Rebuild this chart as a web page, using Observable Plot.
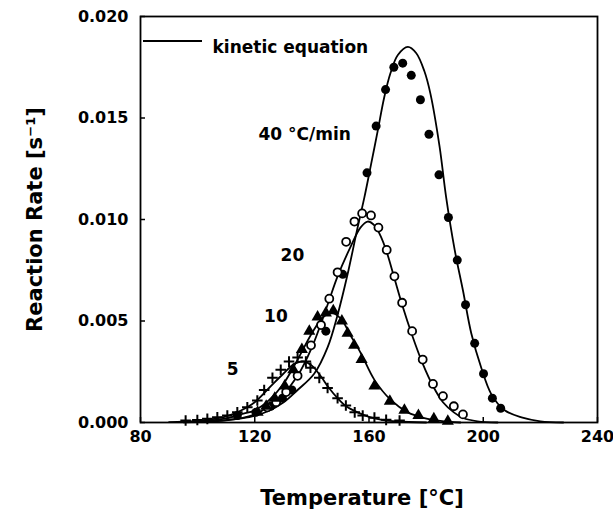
<!DOCTYPE html>
<html>
<head>
<meta charset="utf-8">
<script src="https://cdn.jsdelivr.net/npm/d3@7"></script>
<script src="https://cdn.jsdelivr.net/npm/@observablehq/plot@0.6"></script>
<style>
  html, body { margin: 0; padding: 0; background: #fff; }
  #chart svg { display: block; }
</style>
</head>
<body>
<div id="chart"></div>
<script>
// ---------- data ----------
const xTicks = [80, 120, 160, 200, 240];
const yTicks = [0, 0.005, 0.010, 0.015, 0.020];

// kinetic-equation curves (temperature °C, rate s^-1)
const line5T  = [90, 95, 100, 105, 110, 115, 120, 125, 130, 134, 137.3, 140, 143, 146, 149, 152, 156, 160, 165, 170, 180];
const line5R  = [0.00002, 0.00004, 0.00008, 0.00016, 0.0003, 0.00058, 0.0010, 0.0017, 0.0024, 0.0029, 0.0030, 0.0028, 0.0023, 0.0017, 0.0012, 0.0008, 0.0005, 0.00028, 0.00012, 0.00005, 0];

const line10T = [95, 105, 110, 115, 120, 125, 130, 135, 140, 144, 147, 150.2, 153.5, 157.2, 161.9, 167.7, 173.6, 179.4, 185, 192];
const line10R = [0.00002, 0.0001, 0.0002, 0.0004, 0.0006, 0.0011, 0.0019, 0.0031, 0.0044, 0.0052, 0.0054, 0.0051, 0.0043, 0.0034, 0.0021, 0.0011, 0.0005, 0.00022, 0.00008, 0];

const line20T = [100, 110, 115, 120, 125, 130, 135, 140, 145.5, 149, 153.7, 157, 159.5, 162, 164, 166.2, 168.9, 171.6, 175.1, 178.8, 182.4, 185.9, 189.7, 193, 198, 205];
const line20R = [0.00002, 0.0001, 0.0002, 0.0004, 0.0008, 0.0014, 0.0023, 0.0037, 0.0058, 0.0072, 0.0087, 0.0096, 0.0099, 0.0097, 0.0092, 0.0084, 0.0071, 0.0058, 0.0043, 0.0029, 0.0018, 0.0010, 0.0005, 0.00022, 0.00006, 0];

const line40T = [95, 100, 105, 110, 115, 120, 125, 130, 135, 140.8, 145.5, 149, 152.5, 156, 158.4, 160.7, 163.1, 165.3, 167.5, 170.1, 173.6, 176.5, 179.4, 181.5, 184.7, 187, 190, 192.9, 195.8, 199.3, 202.8, 207.5, 213.4, 220, 228];
const line40R = [0.00001, 0.00003, 0.00006, 0.00012, 0.0002, 0.00033, 0.00058, 0.00098, 0.0016, 0.0024, 0.0037, 0.0053, 0.0073, 0.0096, 0.0111, 0.0127, 0.0144, 0.0160, 0.0172, 0.0181, 0.0185, 0.0182, 0.0173, 0.0162, 0.0136, 0.0111, 0.0085, 0.0065, 0.0044, 0.0027, 0.0014, 0.0006, 0.00025, 0.00006, 0];

// measured points
const pts5T  = [95.8, 99.9, 103.4, 106.9, 110.4, 113.9, 117.4, 120.9, 123.3, 126.2, 129.1, 132, 135, 137.9, 139.5, 142.6, 145.5, 149, 151.9, 155, 157.8, 161.9, 166, 170.7];
const pts5R  = [0.0001, 0.00012, 0.00018, 0.00026, 0.00034, 0.0005, 0.00075, 0.00108, 0.0016, 0.0022, 0.0026, 0.0030, 0.0032, 0.0030, 0.0027, 0.0022, 0.0017, 0.0012, 0.00084, 0.0005, 0.00034, 0.00024, 0.00013, 0.0001];

const pts10T = [121, 124, 127, 130.5, 133.5, 136.5, 139.1, 142, 144.9, 147.5, 150.5, 152.5, 154.8, 157.4, 161.9, 167.3, 172.4, 177.3, 182.7, 187.6];
const pts10R = [0.0005, 0.0008, 0.0012, 0.0018, 0.0026, 0.0036, 0.0045, 0.0052, 0.0054, 0.0055, 0.0050, 0.0044, 0.0038, 0.0031, 0.0018, 0.00105, 0.0006, 0.00034, 0.00018, 0.00006];

const pts20T = [124.4, 127.5, 131, 135, 139.7, 143.2, 146.1, 149, 152, 154.9, 157.6, 160.7, 163.3, 166.2, 168.9, 171.6, 175.1, 178.8, 182.4, 185.9, 189.7, 192.9];
const pts20R = [0.00075, 0.001, 0.0015, 0.0023, 0.0038, 0.0048, 0.0061, 0.0074, 0.0089, 0.0099, 0.0103, 0.0102, 0.0096, 0.0085, 0.0072, 0.0059, 0.0045, 0.0031, 0.0019, 0.0013, 0.0008, 0.0004];

const pts40T = [113.9, 120.4, 125.6, 129.7, 133, 144.9, 150.8, 159.3, 162.5, 165.8, 168.7, 171.8, 174.8, 178, 181, 184.5, 187.8, 190.9, 193.8, 197, 200.1, 203.2, 206.1];
const pts40R = [0.00034, 0.0005, 0.0008, 0.0012, 0.0016, 0.0045, 0.0073, 0.0123, 0.0146, 0.0164, 0.0175, 0.0177, 0.0171, 0.0159, 0.0142, 0.0122, 0.0101, 0.0080, 0.0058, 0.0039, 0.0024, 0.0012, 0.0007];

// series annotations (data coordinates)
const labelText = ["40 °C/min", "20", "10", "5"];
const labelT    = [137.5, 133.2, 127.4, 112.3];
const labelR    = [0.0142, 0.0082, 0.0052, 0.0026];

const legendText = "kinetic equation";
const xTitle = "Temperature [°C]";
const yTitle = "Reaction Rate [s⁻¹]";

// ---------- build tables ----------
const zip = (T, R) => T.map((t, i) => ({T: t, R: R[i]}));
const lines = [zip(line5T, line5R), zip(line10T, line10R), zip(line20T, line20R), zip(line40T, line40R)];
const labels = labelText.map((s, i) => ({s, T: labelT[i], R: labelR[i]}));

const W = 613, H = 519, mL = 140, mR = 16, mT = 16, mB = 97;
const font = "'DejaVu Sans', sans-serif";

const chart = Plot.plot({
  width: W, height: H,
  marginLeft: mL, marginRight: mR, marginTop: mT, marginBottom: mB,
  style: {fontFamily: font, fontWeight: "bold", fontSize: "16px", color: "black", background: "white"},
  x: {domain: [80, 240]},
  y: {domain: [0, 0.02]},
  marks: [
    Plot.frame({stroke: "black", strokeWidth: 1.8}),
    Plot.axisX({ticks: xTicks, tickSize: 0, tickPadding: 8, label: null, fontSize: 16}),
    Plot.axisY({ticks: yTicks, tickSize: 0, tickPadding: 12, tickFormat: d3.format(".3f"), label: null, fontSize: 16}),
    Plot.tickY(yTicks, {y: d => d, stroke: "black", strokeWidth: 1.5, insetRight: (W - mL - mR) - 5}),
    Plot.tickX(xTicks, {x: d => d, stroke: "black", strokeWidth: 1.5, insetTop: (H - mT - mB) - 5}),
    ...lines.map(L => Plot.line(L, {x: "T", y: "R", stroke: "black", strokeWidth: 1.8, curve: "catmull-rom"})),
    Plot.dot(zip(pts40T, pts40R), {x: "T", y: "R", r: 4.5, fill: "black", stroke: "none"}),
    Plot.dot(zip(pts20T, pts20R), {x: "T", y: "R", r: 4, fill: "white", stroke: "black", strokeWidth: 1.8}),
    Plot.dot(zip(pts10T, pts10R), {x: "T", y: "R", r: 4.5, symbol: "triangle", fill: "black", stroke: "none"}),
    Plot.dot(zip(pts5T, pts5R), {x: "T", y: "R", r: 3.5, symbol: "plus", fill: "none", stroke: "black", strokeWidth: 2}),
    Plot.text(labels, {x: "T", y: "R", text: "s", fontSize: 17, fontWeight: "bold", fill: "black"}),
    Plot.text([legendText], {frameAnchor: "top-left", dx: 72, dy: 24, textAnchor: "start", fontSize: 17, fontWeight: "bold", fill: "black"}),
    Plot.text([xTitle], {frameAnchor: "bottom", dx: -7, dy: 82, textAnchor: "middle", fontSize: 21, fontWeight: "bold", fill: "black"}),
    Plot.text([yTitle], {frameAnchor: "left", dx: -105, rotate: -90, textAnchor: "middle", fontSize: 21, fontWeight: "bold", fill: "black"})
  ]
});

// legend line sample
d3.select(chart).append("line")
  .attr("x1", mL + 3).attr("x2", mL + 62)
  .attr("y1", mT + 25).attr("y2", mT + 25)
  .attr("stroke", "black").attr("stroke-width", 1.8);

document.getElementById("chart").appendChild(chart);
</script>
</body>
</html>
